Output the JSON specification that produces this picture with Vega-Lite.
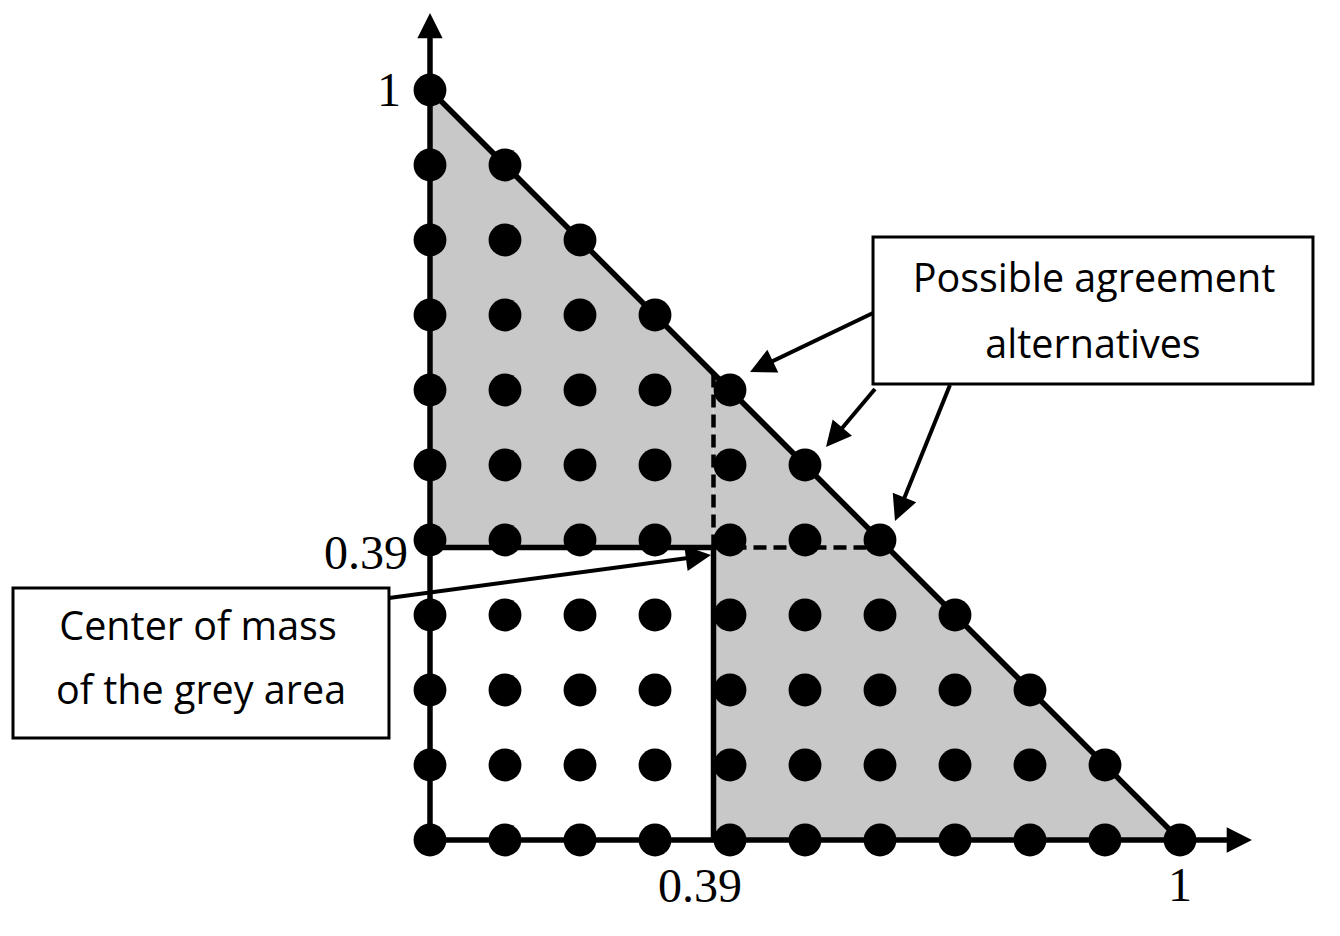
{
  "$schema": "https://vega.github.io/schema/vega-lite/v6.json",
  "width": 1340,
  "height": 936,
  "autosize": "none",
  "padding": 0,
  "background": "white",
  "config": {"view": {"stroke": null}},
  "datasets": {
    "grey": [
      {"part": "a", "x": 0, "y": 1, "y2": 0.39},
      {"part": "a", "x": 0.378, "y": 0.622, "y2": 0.39},
      {"part": "b", "x": 0.378, "y": 0.622, "y2": 0},
      {"part": "b", "x": 1, "y": 0, "y2": 0}
    ],
    "solid": [
      {"x": 0, "y": 0, "x2": 0, "y2": 1.075},
      {"x": 0, "y": 0, "x2": 1.075, "y2": 0},
      {"x": 0, "y": 1, "x2": 1, "y2": 0},
      {"x": 0, "y": 0.39, "x2": 0.378, "y2": 0.39},
      {"x": 0.378, "y": 0, "x2": 0.378, "y2": 0.39}
    ],
    "dashed": [
      {"x": 0.378, "y": 0.39, "x2": 0.378, "y2": 0.622},
      {"x": 0.378, "y": 0.39, "x2": 0.61, "y2": 0.39}
    ],
    "dots": [
      {"x": 0, "y": 0}, {"x": 0.1, "y": 0}, {"x": 0.2, "y": 0}, {"x": 0.3, "y": 0}, {"x": 0.4, "y": 0}, {"x": 0.5, "y": 0}, {"x": 0.6, "y": 0}, {"x": 0.7, "y": 0}, {"x": 0.8, "y": 0}, {"x": 0.9, "y": 0}, {"x": 1, "y": 0},
      {"x": 0, "y": 0.1}, {"x": 0.1, "y": 0.1}, {"x": 0.2, "y": 0.1}, {"x": 0.3, "y": 0.1}, {"x": 0.4, "y": 0.1}, {"x": 0.5, "y": 0.1}, {"x": 0.6, "y": 0.1}, {"x": 0.7, "y": 0.1}, {"x": 0.8, "y": 0.1}, {"x": 0.9, "y": 0.1},
      {"x": 0, "y": 0.2}, {"x": 0.1, "y": 0.2}, {"x": 0.2, "y": 0.2}, {"x": 0.3, "y": 0.2}, {"x": 0.4, "y": 0.2}, {"x": 0.5, "y": 0.2}, {"x": 0.6, "y": 0.2}, {"x": 0.7, "y": 0.2}, {"x": 0.8, "y": 0.2},
      {"x": 0, "y": 0.3}, {"x": 0.1, "y": 0.3}, {"x": 0.2, "y": 0.3}, {"x": 0.3, "y": 0.3}, {"x": 0.4, "y": 0.3}, {"x": 0.5, "y": 0.3}, {"x": 0.6, "y": 0.3}, {"x": 0.7, "y": 0.3},
      {"x": 0, "y": 0.4}, {"x": 0.1, "y": 0.4}, {"x": 0.2, "y": 0.4}, {"x": 0.3, "y": 0.4}, {"x": 0.4, "y": 0.4}, {"x": 0.5, "y": 0.4}, {"x": 0.6, "y": 0.4},
      {"x": 0, "y": 0.5}, {"x": 0.1, "y": 0.5}, {"x": 0.2, "y": 0.5}, {"x": 0.3, "y": 0.5}, {"x": 0.4, "y": 0.5}, {"x": 0.5, "y": 0.5},
      {"x": 0, "y": 0.6}, {"x": 0.1, "y": 0.6}, {"x": 0.2, "y": 0.6}, {"x": 0.3, "y": 0.6}, {"x": 0.4, "y": 0.6},
      {"x": 0, "y": 0.7}, {"x": 0.1, "y": 0.7}, {"x": 0.2, "y": 0.7}, {"x": 0.3, "y": 0.7},
      {"x": 0, "y": 0.8}, {"x": 0.1, "y": 0.8}, {"x": 0.2, "y": 0.8},
      {"x": 0, "y": 0.9}, {"x": 0.1, "y": 0.9},
      {"x": 0, "y": 1}
    ],
    "boxes": [
      {"x": 0.5907, "x2": 1.1773, "y": 0.804, "y2": 0.608},
      {"x": -0.556, "x2": -0.0547, "y": 0.336, "y2": 0.136}
    ],
    "pointers": [
      {"x": 0.5907, "y": 0.7027, "x2": 0.4387, "y2": 0.6297},
      {"x": 0.5933, "y": 0.6013, "x2": 0.5367, "y2": 0.5341},
      {"x": 0.6933, "y": 0.6067, "x2": 0.625, "y2": 0.4377},
      {"x": -0.0547, "y": 0.3227, "x2": 0.3615, "y2": 0.3783}
    ],
    "heads": [
      {"x": 0, "y": 1.1027, "angle": 0},
      {"x": 1.096, "y": 0, "angle": 90},
      {"x": 0.4267, "y": 0.624, "angle": 244.4},
      {"x": 0.528, "y": 0.524, "angle": 220.2},
      {"x": 0.62, "y": 0.4253, "angle": 202},
      {"x": 0.3747, "y": 0.38, "angle": 82.4}
    ],
    "serifCenter": [
      {"x": -0.0547, "y": 0.9787, "label": "1"},
      {"x": 0.36, "y": -0.0827, "label": "0.39"},
      {"x": 1.0, "y": -0.0813, "label": "1"}
    ],
    "serifRight": [
      {"x": -0.0293, "y": 0.3613, "label": "0.39"}
    ],
    "sans": [
      {"x": 0.8853, "y": 0.7307, "label": "Possible agreement"},
      {"x": 0.884, "y": 0.6427, "label": "alternatives"},
      {"x": -0.3093, "y": 0.2667, "label": "Center of mass"},
      {"x": -0.3053, "y": 0.1813, "label": "of the grey area"}
    ]
  },
  "layer": [
    {
      "data": {"name": "grey"},
      "mark": {"type": "area", "color": "#c8c8c8", "opacity": 1},
      "encoding": {
        "x": {"field": "x", "type": "quantitative", "scale": {"domain": [-0.573333, 1.213333], "nice": false, "zero": false}, "axis": null},
        "y": {"field": "y", "type": "quantitative", "scale": {"domain": [-0.128, 1.12], "nice": false, "zero": false}, "axis": null},
        "y2": {"field": "y2"},
        "detail": {"field": "part"}
      }
    },
    {
      "data": {"name": "solid"},
      "mark": {"type": "rule", "color": "black", "strokeWidth": 5.5},
      "encoding": {
        "x": {"field": "x", "type": "quantitative"},
        "y": {"field": "y", "type": "quantitative"},
        "x2": {"field": "x2"},
        "y2": {"field": "y2"}
      }
    },
    {
      "data": {"name": "dashed"},
      "mark": {"type": "rule", "color": "black", "strokeWidth": 4.5, "strokeDash": [13, 7]},
      "encoding": {
        "x": {"field": "x", "type": "quantitative"},
        "y": {"field": "y", "type": "quantitative"},
        "x2": {"field": "x2"},
        "y2": {"field": "y2"}
      }
    },
    {
      "data": {"name": "dots"},
      "mark": {"type": "circle", "color": "black", "opacity": 1, "size": 1080},
      "encoding": {
        "x": {"field": "x", "type": "quantitative"},
        "y": {"field": "y", "type": "quantitative"}
      }
    },
    {
      "data": {"name": "boxes"},
      "mark": {"type": "rect", "fill": "white", "stroke": "black", "strokeWidth": 3},
      "encoding": {
        "x": {"field": "x", "type": "quantitative"},
        "x2": {"field": "x2"},
        "y": {"field": "y", "type": "quantitative"},
        "y2": {"field": "y2"}
      }
    },
    {
      "data": {"name": "pointers"},
      "mark": {"type": "rule", "color": "black", "strokeWidth": 4},
      "encoding": {
        "x": {"field": "x", "type": "quantitative"},
        "y": {"field": "y", "type": "quantitative"},
        "x2": {"field": "x2"},
        "y2": {"field": "y2"}
      }
    },
    {
      "data": {"name": "heads"},
      "mark": {"type": "point", "shape": "M0,0L1,2L-1,2Z", "filled": true, "color": "black", "opacity": 1, "size": 640, "strokeWidth": 0},
      "encoding": {
        "x": {"field": "x", "type": "quantitative"},
        "y": {"field": "y", "type": "quantitative"},
        "angle": {"field": "angle", "type": "quantitative", "scale": null}
      }
    },
    {
      "data": {"name": "serifCenter"},
      "mark": {"type": "text", "font": "Liberation Serif", "fontSize": 48, "baseline": "alphabetic", "align": "center", "color": "black"},
      "encoding": {
        "x": {"field": "x", "type": "quantitative"},
        "y": {"field": "y", "type": "quantitative"},
        "text": {"field": "label"}
      }
    },
    {
      "data": {"name": "serifRight"},
      "mark": {"type": "text", "font": "Liberation Serif", "fontSize": 48, "baseline": "alphabetic", "align": "right", "color": "black"},
      "encoding": {
        "x": {"field": "x", "type": "quantitative"},
        "y": {"field": "y", "type": "quantitative"},
        "text": {"field": "label"}
      }
    },
    {
      "data": {"name": "sans"},
      "mark": {"type": "text", "font": "Open Sans", "fontSize": 39.5, "baseline": "alphabetic", "align": "center", "color": "black"},
      "encoding": {
        "x": {"field": "x", "type": "quantitative"},
        "y": {"field": "y", "type": "quantitative"},
        "text": {"field": "label"}
      }
    }
  ]
}
